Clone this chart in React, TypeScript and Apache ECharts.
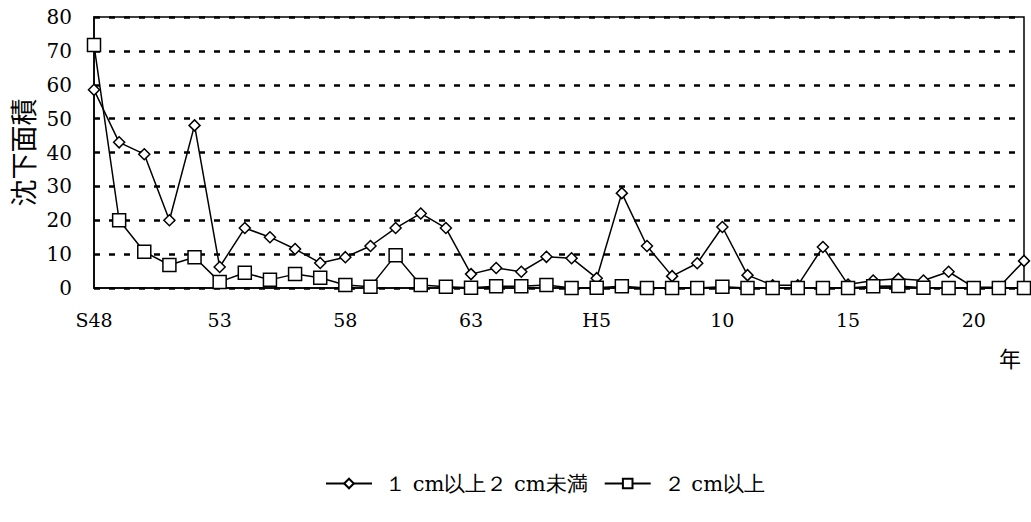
import React, { useEffect, useRef } from "react";
import * as echarts from "echarts";

const categories = [
  "S48", "49", "50", "51", "52", "53", "54", "55", "56", "57",
  "58", "59", "60", "61", "62", "63", "H1", "2", "3", "4",
  "H5", "6", "7", "8", "9", "10", "11", "12", "13", "14",
  "15", "16", "17", "18", "19", "20", "21", "22",
];

const series1Name = "１ cm以上２ cm未満";
const series2Name = "２ cm以上";

const series1 = [
  58.5, 43, 39.5, 20, 48, 6.2, 17.7, 15, 11.5, 7.4,
  9.1, 12.4, 17.7, 22, 17.7, 4.1, 5.9, 4.8, 9.2, 8.8,
  2.9, 28, 12.4, 3.5, 7.3, 18, 3.8, 0.8, 0.8, 12.1,
  1, 2.2, 2.7, 2.2, 4.8, 0.2, 0.2, 8,
];

const series2 = [
  71.7, 20, 10.7, 6.8, 9.1, 1.8, 4.5, 2.4, 4.1, 3.0,
  0.9, 0.4, 9.7, 0.9, 0.4, 0.1, 0.5, 0.5, 0.9, 0,
  0.1, 0.5, 0, 0, 0, 0.4, 0, 0, 0, 0,
  0, 0.5, 0.6, 0.1, 0, 0, 0, 0,
];

const yTicks = { min: 0, max: 80, interval: 10 };
const yAxisName = "沈下面積";
const xAxisName = "年";

const serif = "DejaVu Serif";
const cjk = "Noto Sans CJK JP";

export default function App() {
  const ref = useRef<HTMLDivElement>(null);
  useEffect(() => {
    if (!ref.current) return;
    const chart = echarts.init(ref.current, undefined, { renderer: "svg" });
    chart.setOption({
      animation: false,
      backgroundColor: "#ffffff",
      textStyle: { fontFamily: serif },
      grid: {
        left: 94,
        right: 7,
        top: 17,
        bottom: 234,
        show: true,
        borderColor: "#000",
        borderWidth: 1.5,
      },
      legend: {
        top: 468,
        left: 320,
        itemWidth: 46,
        itemHeight: 12,
        itemGap: 16,
        textStyle: {
          fontFamily: serif,
          fontSize: 21,
          color: "#000",
          padding: [0, 0, 0, 8],
        },
        data: [series1Name, series2Name],
      },
      xAxis: {
        type: "category",
        data: categories,
        boundaryGap: false,
        axisLine: { lineStyle: { color: "#000", width: 1.5 } },
        axisTick: { show: false },
        axisLabel: {
          interval: 4,
          color: "#000",
          fontFamily: serif,
          fontSize: 19,
          margin: 22,
        },
        splitLine: { show: false },
      },
      yAxis: {
        type: "value",
        min: yTicks.min,
        max: yTicks.max,
        interval: yTicks.interval,
        name: yAxisName,
        nameLocation: "middle",
        nameRotate: 90,
        nameGap: 55,
        nameTextStyle: { fontFamily: cjk, fontSize: 27, color: "#000" },
        axisLine: { show: true, lineStyle: { color: "#000", width: 1.5 } },
        axisTick: { show: false },
        axisLabel: {
          color: "#000",
          fontFamily: serif,
          fontSize: 20,
          margin: 22,
        },
        splitLine: {
          show: true,
          lineStyle: { color: "#000", width: 2.5, type: [6, 9] },
        },
      },
      graphic: [
        {
          type: "text",
          left: 999,
          top: 346,
          style: {
            text: xAxisName,
            fontFamily: cjk,
            fontSize: 22,
            fill: "#000",
          },
        },
      ],
      series: [
        {
          name: series1Name,
          type: "line",
          data: series1,
          symbol: "diamond",
          symbolSize: 11,
          showAllSymbol: true,
          lineStyle: { color: "#000", width: 1.5 },
          itemStyle: { color: "#fff", borderColor: "#000", borderWidth: 1.5 },
          z: 3,
        },
        {
          name: series2Name,
          type: "line",
          data: series2,
          symbol: "rect",
          symbolSize: 13,
          showAllSymbol: true,
          lineStyle: { color: "#000", width: 1.5 },
          itemStyle: { color: "#fff", borderColor: "#000", borderWidth: 1.5 },
          z: 4,
        },
      ],
    });
    return () => chart.dispose();
  }, []);
  return (
    <div
      ref={ref}
      style={{ position: "absolute", left: 0, top: 0, width: 1031, height: 522 }}
    />
  );
}
